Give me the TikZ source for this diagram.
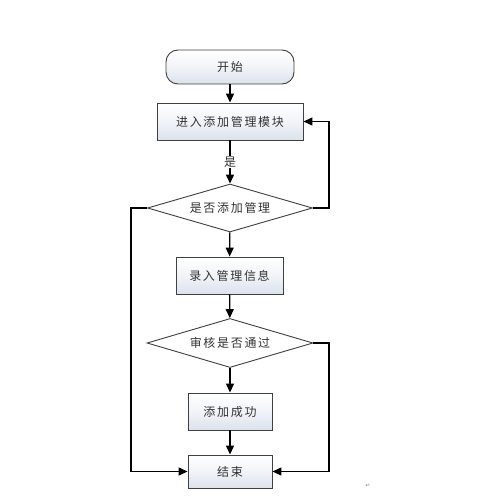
\documentclass[tikz,border=0pt]{standalone}
\usepackage{fontspec}
\newfontfamily\cjk[LetterSpace=14]{Noto Sans CJK SC}
\newfontfamily\djv{DejaVu Sans}
\usetikzlibrary{shapes.geometric,arrows.meta}
\definecolor{boxbot}{HTML}{DCE2EC}
\definecolor{txt}{HTML}{333333}
\tikzset{
  base/.style={draw=black!75, line width=0.9pt, inner sep=0pt, font=\cjk\fontsize{12}{14}\selectfont, text=txt},
  procbox/.style={base, rectangle, top color=white, bottom color=boxbot, middle color=white!60!boxbot},
  termbox/.style={procbox, rounded corners=12pt},
  decide/.style={base, diamond, aspect=3.4, fill=white},
  conn/.style={line width=1.3pt, -{Triangle[length=9pt,width=8pt]}},
}
\begin{document}
\begin{tikzpicture}[x=1pt,y=-1pt]
\useasboundingbox[fill=white] (0,0) rectangle (503,500);
\node[termbox, minimum width=128pt, minimum height=34pt] (start) at (230,67) {开始};
\node[procbox, minimum width=146pt, minimum height=37pt] (enter) at (230,121.5) {进入添加管理模块};
\node[decide, minimum width=165pt, minimum height=48pt] (d1) at (230,208) {是否添加管理};
\node[procbox, minimum width=107pt, minimum height=37pt] (input) at (229.5,275.5) {录入管理信息};
\node[decide, minimum width=166pt, minimum height=49pt] (d2) at (230,343) {审核是否通过};
\node[procbox, minimum width=84pt, minimum height=37pt] (ok) at (230,411.5) {添加成功};
\node[procbox, minimum width=84pt, minimum height=33pt] (end) at (230,471.5) {结束};
\node[text=black!45, font=\djv\fontsize{6}{7}\selectfont] (mark) at (368,486) {↵};
\coordinate (r1) at (329,208);
\coordinate (r1t) at (329,121.5);
\coordinate (l1) at (131,208);
\coordinate (l1b) at (131,471.5);
\coordinate (r2) at (329,343);
\coordinate (r2b) at (329,471.5);
\draw[conn] (start) -- (enter);
\draw[conn] (enter) -- node[fill=white, inner sep=1pt, font=\cjk\fontsize{12}{14}\selectfont, text=txt] (yes) {是} (d1);
\draw[conn] (d1.east) -- (r1) -- (r1t) -- (enter.east);
\draw[conn] (d1.west) -- (l1) -- (l1b) -- (end.west);
\draw[conn] (d1) -- (input);
\draw[conn] (input) -- (d2);
\draw[conn] (d2) -- (ok);
\draw[conn] (ok) -- (end);
\draw[conn] (d2.east) -- (r2) -- (r2b) -- (end.east);
\end{tikzpicture}
\end{document}
